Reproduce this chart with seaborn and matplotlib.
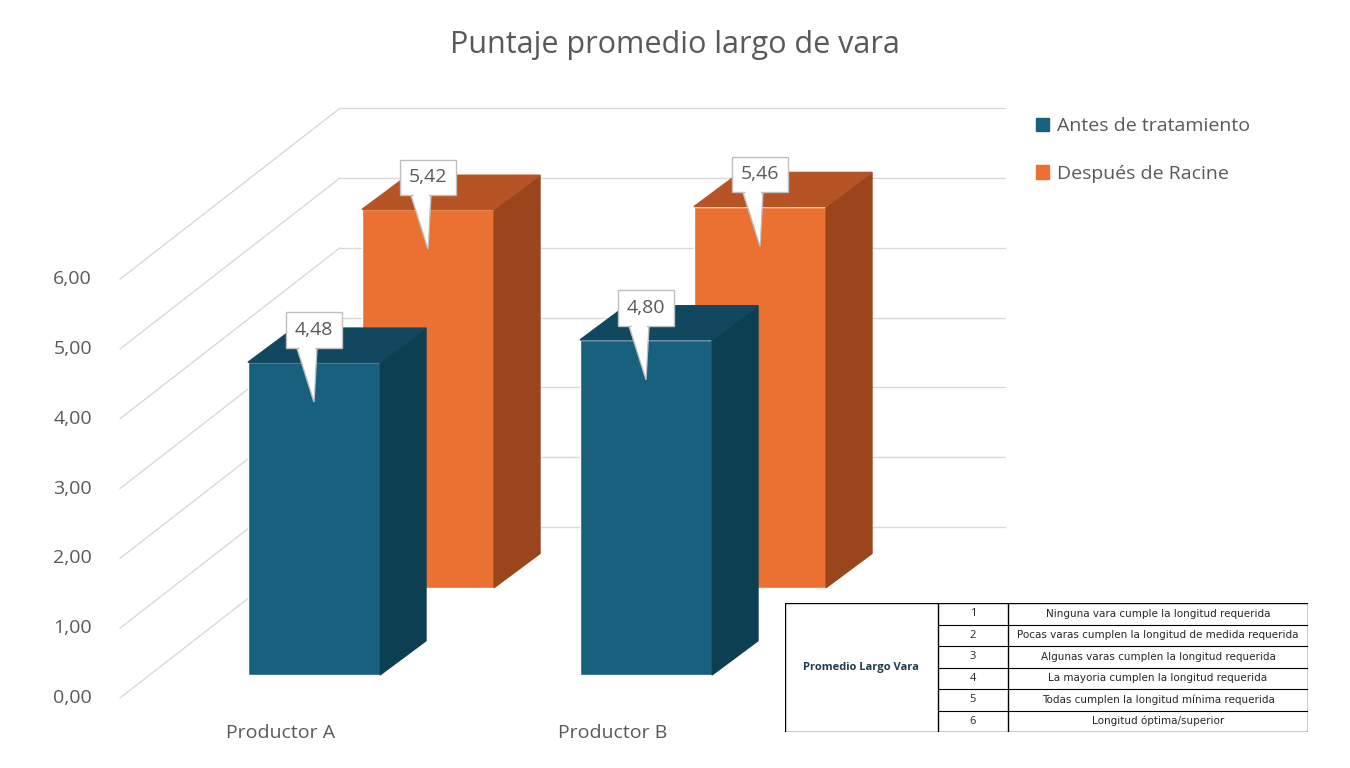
import matplotlib
matplotlib.use("Agg")
import matplotlib.pyplot as plt
import seaborn as sns
from matplotlib.patches import Polygon, Patch

sns.set_theme(style="white")
plt.rcParams['font.family'] = ['Open Sans', 'DejaVu Sans']

# datos
productores = ['Productor A', 'Productor B']
series = ['Antes de tratamiento', 'Después de Racine']
antes = [4.48, 4.80]
despues = [5.42, 5.46]
ticks = [0, 1, 2, 3, 4, 5, 6]
tabla_num = ['1', '2', '3', '4', '5', '6']
tabla_txt = ['Ninguna vara cumple la longitud requerida',
             'Pocas varas cumplen la longitud de medida requerida',
             'Algunas varas cumplen la longitud requerida',
             'La mayoria cumplen la longitud requerida',
             'Todas cumplen la longitud mínima requerida',
             'Longitud óptima/superior']

# colores (frente, lado, techo)
col_antes = ('#17607e', '#0d3f52', '#11485f')
col_desp = ('#ea7131', '#9a451c', '#b65425')
gris = '#595959'

fig = plt.figure(figsize=(13.5, 7.68), dpi=100)
ax = fig.add_axes([0, 0, 1, 1])
ax.set_xlim(0, 1350)
ax.set_ylim(-1.003, 10.0)
ax.axis('off')

# caja 3D: pared trasera y piso
depth_x, depth_y = 220, 2.45
for v in ticks:
    ax.plot([120, 120 + depth_x], [v, v + depth_y], color='#d9d9d9', lw=1)
    ax.plot([120 + depth_x, 1005], [v + depth_y, v + depth_y], color='#d9d9d9', lw=1)
    ax.text(92, v, f'{v:.2f}'.replace('.', ','), ha='right', va='center',
            fontsize=14, color=gris)

# barras 3D
paso = 332
ancho = 132
bx, by = 46, 0.49          # profundidad de cada barra
filas = [(antes, col_antes, 314, 0.33), (despues, col_desp, 428, 1.58)]
# fila trasera primero
for valores, cols, x0, base in filas[::-1]:
    for i, val in enumerate(valores):
        cx = x0 + i * paso
        ax.bar(cx, val, width=ancho, bottom=base, color=cols[0], zorder=3)
        l, r, t = cx - ancho / 2, cx + ancho / 2, base + val
        ax.add_patch(Polygon([(r, base), (r + bx, base + by), (r + bx, t + by), (r, t)],
                             color=cols[1], zorder=3))
        ax.add_patch(Polygon([(l, t), (l + bx, t + by), (r + bx, t + by), (r, t)],
                             color=cols[2], zorder=3))
        # etiqueta tipo globo
        ax.add_patch(Polygon([(cx - 17, t + 0.2), (cx + 3, t + 0.2), (cx, t - 0.57)],
                             facecolor='white', edgecolor='#bfbfbf', lw=1, zorder=4))
        ax.text(cx, t + 0.46, f'{val:.2f}'.replace('.', ','), ha='center', va='center',
                fontsize=14, color=gris, zorder=5,
                bbox=dict(boxstyle='square,pad=0.45', fc='white', ec='#bfbfbf', lw=1))
        ax.add_patch(Polygon([(cx - 15, t + 0.23), (cx + 1, t + 0.23), (cx, t - 0.53)],
                             facecolor='white', edgecolor='none', zorder=6))

for i, p in enumerate(productores):
    ax.text(281 + i * paso, -0.5, p, ha='center', va='center', fontsize=14, color=gris)

ax.text(675, 9.36, 'Puntaje promedio largo de vara', ha='center', va='center',
        fontsize=22, color=gris)

handles = [Patch(color=col_antes[0]), Patch(color=col_desp[0])]
ax.legend(handles, series, loc='upper left', bbox_to_anchor=(1018 / 1350, 1 - 100 / 768),
          frameon=False, fontsize=14, labelcolor=gris, handlelength=0.7, handleheight=0.7,
          handletextpad=0.4, labelspacing=1.5)

# tabla de referencia
tx = fig.add_axes([785 / 1350, 1 - 732 / 768, 523 / 1350, 129 / 768])
tx.set_xlim(0, 523)
tx.set_ylim(129, 0)
tx.axis('off')
tx.plot([0, 523, 523, 0, 0], [0, 0, 129, 129, 0], color='black', lw=1)
tx.plot([153, 153], [0, 129], color='black', lw=1)
tx.plot([223, 223], [0, 129], color='black', lw=1)
alto = 129 / 6
for k in range(1, 6):
    tx.plot([153, 523], [k * alto, k * alto], color='black', lw=0.8)
tx.text(76, 64.5, 'Promedio Largo Vara', ha='center', va='center', fontsize=8,
        fontweight='bold', color='#1f3b4d', fontstretch='condensed')
for k in range(6):
    yc = (k + 0.5) * alto
    tx.text(188, yc, tabla_num[k], ha='center', va='center', fontsize=8)
    tx.text(373, yc, tabla_txt[k], ha='center', va='center', fontsize=7.5,
            family=['Liberation Sans Narrow', 'DejaVu Sans'])

fig.savefig('out.png', dpi=100)
